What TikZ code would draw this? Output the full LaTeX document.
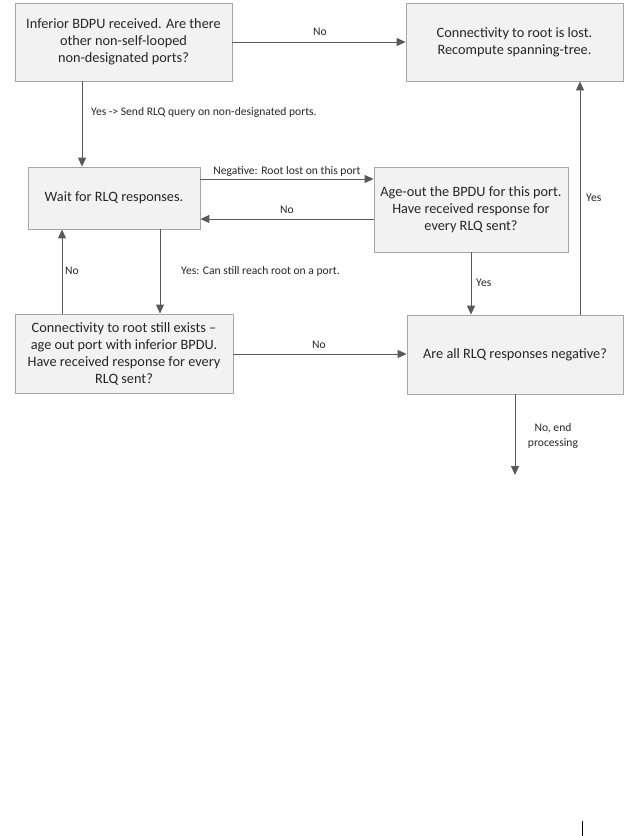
\documentclass[tikz,border=0pt]{standalone}
\usepackage{fontspec}
\setmainfont{Carlito}
\usetikzlibrary{arrows.meta}
\definecolor{boxfill}{HTML}{F2F2F2}
\definecolor{boxline}{HTML}{A6A6A6}
\definecolor{conn}{HTML}{595959}
\definecolor{txt}{HTML}{262626}
\tikzset{
  flowbox/.style={draw=boxline, fill=boxfill, line width=0.8pt, align=center, inner sep=2pt,
    font=\fontsize{14.3}{17}\selectfont, text=txt},
  arr/.style={draw=conn, line width=0.9pt, -{Triangle[length=9pt,width=8pt]}, color=conn},
  plainline/.style={draw=conn, line width=0.9pt},
  lbl/.style={font=\fontsize{11.6}{15}\selectfont, text=txt, inner sep=1pt}
}
\begin{document}
\begin{tikzpicture}[x=1pt,y=-1pt]
\useasboundingbox (0,0) rectangle (641,836);
% boxes
\node[flowbox, minimum width=217pt, minimum height=78pt] (A) at (123.5,42)
  {Inferior BDPU received. Are there\\other non-self-looped\\non-designated ports?};
\node[flowbox, minimum width=217pt, minimum height=78pt] (B) at (514.5,42)
  {Connectivity to root is lost.\\Recompute spanning-tree.};
\node[flowbox, minimum width=172pt, minimum height=62pt] (C) at (114,198)
  {Wait for RLQ responses.};
\node[flowbox, minimum width=194pt, minimum height=85pt] (D) at (471,209.5)
  {Age-out the BPDU for this port.\\Have received response for\\every RLQ sent?};
\node[flowbox, minimum width=218pt, minimum height=79pt] (F) at (124,353.5)
  {Connectivity to root still exists –\\age out port with inferior BPDU.\\Have received response for every\\RLQ sent?};
\node[flowbox, minimum width=216pt, minimum height=79pt] (E) at (515,354.5)
  {Are all RLQ responses negative?};
% helper coordinates
\coordinate (xAC) at (82,0);
\coordinate (xCF) at (160,0);
\coordinate (xFC) at (62,0);
\coordinate (xEB) at (580,0);
\coordinate (yCD) at (0,179);
\coordinate (yDC) at (0,219);
\coordinate (yFE) at (0,354);
\coordinate (endpt) at (515,475);
% connectors
\draw[arr] (A.east) -- (B.west);
\draw[arr] (A.south -| xAC) -- (C.north -| xAC);
\draw[arr] (C.east |- yCD) -- (D.west |- yCD);
\draw[arr] (D.west |- yDC) -- (C.east |- yDC);
\draw[arr] (C.south -| xCF) -- (F.north -| xCF);
\draw[arr] (F.north -| xFC) -- (C.south -| xFC);
\draw[arr] (F.east |- yFE) -- (E.west |- yFE);
\draw[arr] (D.south) -- (E.north -| D.south);
\draw[arr] (E.north -| xEB) -- (B.south -| xEB);
\draw[arr] (E.south) -- (endpt);
% labels
\node[lbl] (lAB) at (320,32) {No};
\node[lbl, anchor=west] (lAC) at (90,112) {Yes -> Send RLQ query on non-designated ports.};
\node[lbl] (lCD) at (287,171) {Negative: Root lost on this port};
\node[lbl] (lDC) at (287,210) {No};
\node[lbl, anchor=west] (lCF) at (180,271) {Yes: Can still reach root on a port.};
\node[lbl, anchor=west] (lFC) at (64,271) {No};
\node[lbl] (lFE) at (319,345) {No};
\node[lbl, anchor=west] (lDE) at (475,283) {Yes};
\node[lbl, anchor=west] (lEB) at (585,198) {Yes};
\node[lbl, align=center] (lEnd) at (553,436) {No, end\\processing};
% page mark
\draw[line width=1pt] (582,821) -- (582,836);
\end{tikzpicture}
\end{document}
